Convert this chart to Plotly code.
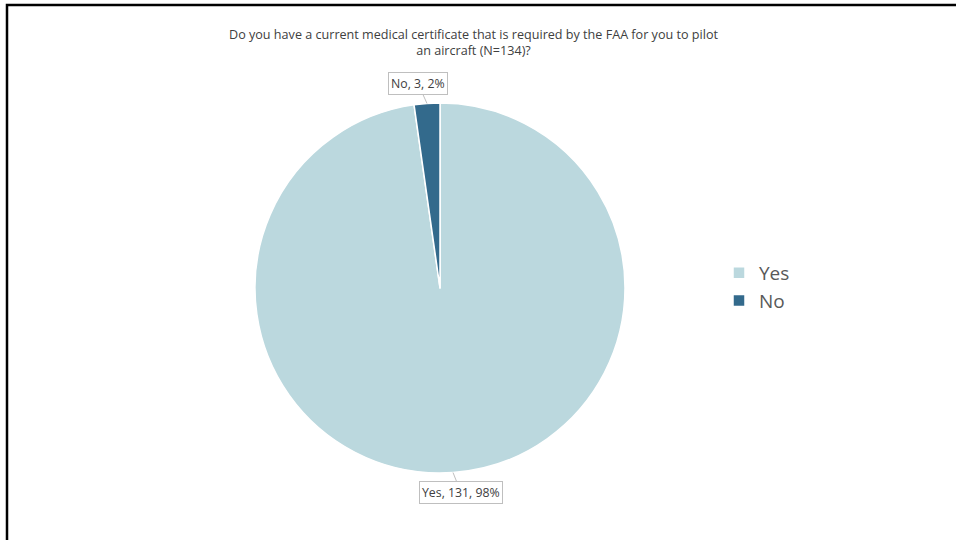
import math
import plotly.graph_objects as go

# Survey responses
categories = ["Yes", "No"]
counts = [131, 3]
colors = ["#BBD8DE", "#336A8C"]
title_text = ("Do you have a current medical certificate that is required by the FAA for you to pilot"
              "<br>an aircraft (N=134)?")

W, H = 956, 540
cx, cy, r = 440, 288, 185  # pie centre and radius in pixels

fig = go.Figure()
fig.add_trace(go.Pie(
    labels=categories,
    values=counts,
    sort=False,
    direction="clockwise",
    rotation=0,
    marker=dict(colors=colors, line=dict(color="white", width=1.5)),
    textinfo="none",
    hoverinfo="label+value+percent",
    domain=dict(x=[(cx - r) / W, (cx + r) / W], y=[1 - (cy + r) / H, 1 - (cy - r) / H]),
))

# Callout labels: anchored on the outer edge at each slice's mid angle
total = sum(counts)
offsets = {"Yes": (8, 20), "No": (-9, -20)}
cum = 0
for lab, val in zip(categories, counts):
    frac = val / total
    mid = (cum + frac / 2) * 2 * math.pi
    cum += frac
    px = cx + r * math.sin(mid)
    py = cy - r * math.cos(mid)
    pct = round(frac * 100)
    ax, ay = offsets[lab]
    fig.add_annotation(
        x=px / W, y=1 - py / H, xref="paper", yref="paper",
        text=f"{lab}, {val}, {pct}%",
        showarrow=True, arrowhead=0, arrowwidth=1, arrowcolor="#BFBFBF",
        ax=ax, ay=ay, standoff=0,
        bordercolor="#BFBFBF", borderwidth=1, borderpad=2, bgcolor="white",
        font=dict(family="Open Sans, sans-serif", size=12.3, color="#404040"),
    )

# Title
fig.add_annotation(
    x=473 / W, y=1 - 43 / H, xref="paper", yref="paper",
    text=title_text, showarrow=False, align="center",
    xanchor="center", yanchor="middle",
    font=dict(family="Open Sans, sans-serif", size=12.6, color="#404040"),
)

# Chart frame
fig.add_shape(type="rect", xref="paper", yref="paper",
              x0=7 / W, x1=1.05, y0=-0.05, y1=1 - 5 / H,
              line=dict(color="black", width=2.5), fillcolor="rgba(0,0,0,0)")

fig.update_layout(
    width=W, height=H,
    margin=dict(l=0, r=0, t=0, b=0),
    paper_bgcolor="white", plot_bgcolor="white",
    showlegend=True,
    legend=dict(x=719 / W, y=1 - 287 / H, xanchor="left", yanchor="middle",
                font=dict(family="Open Sans, sans-serif", size=19, color="#595959"),
                bgcolor="rgba(0,0,0,0)", traceorder="normal"),
)

fig.write_html("out.html")
